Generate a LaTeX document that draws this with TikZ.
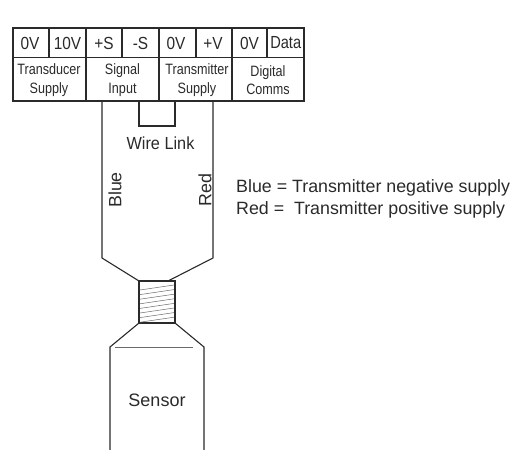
\documentclass[tikz,border=0pt]{standalone}
\usepackage{fontspec}
\setmainfont{Liberation Sans}
\definecolor{ink}{HTML}{2A2A2A}
\tikzset{
 x=1pt,y=-1pt,
 ln/.style={draw=ink,line width=1.1pt},
 thin ln/.style={draw=ink!70,line width=0.5pt},
 cell/.style={text=ink,font=\fontsize{17.5}{18}\selectfont,inner sep=0pt,anchor=center,xscale=.88},
 lbl/.style={text=ink,font=\fontsize{15}{18.5}\selectfont,inner sep=0pt,align=center,anchor=center,xscale=.84},
 big/.style={text=ink,font=\fontsize{17.8}{19}\selectfont,inner sep=0pt},
 mid/.style={text=ink,font=\fontsize{17.5}{19}\selectfont,inner sep=0pt,xscale=.93},
 sens/.style={text=ink,font=\fontsize{18}{19}\selectfont,inner sep=0pt}
}
\begin{document}
\begin{tikzpicture}
\useasboundingbox (0,0) rectangle (528,450);
\draw[ln] (13,28) rectangle (304,101);
\draw[ln] (13,57.5) -- (304,57.5);
\foreach \x in {49,122,196,267}{\draw[ln] (\x,28) -- (\x,57.5);}
\foreach \x in {86,159,232}{\draw[ln] (\x,28) -- (\x,101);}
\node[cell] (a) at (30,43) {0V};
\node[cell] (b) at (67.5,43) {10V};
\node[cell] (c) at (104,43) {+S};
\node[cell] (d) at (140.5,43) {-S};
\node[cell] (e) at (176,43) {0V};
\node[cell] (f) at (213,43) {+V};
\node[cell] (g) at (249.5,43) {0V};
\node[cell,xscale=.95] (h) at (285.7,43) {Data};
\node[lbl] (t1) at (49,80) {Transducer\\Supply};
\node[lbl] (t2) at (122.5,80) {Signal\\Input};
\node[lbl] (t3) at (197,80) {Transmitter\\Supply};
\node[lbl] (t4) at (268,80) {Digital\\Comms};
\draw[ln] (102,101) -- (102,258) -- (139,281);
\draw[ln] (213,101) -- (213,258) -- (168,281);
\draw[ln] (139,101) -- (139,126) -- (175,126) -- (175,101);
\node[mid] (wl) at (160.5,143) {Wire Link};
\node[big,rotate=90] (bl) at (115,190) {Blue};
\node[big,rotate=90] (rd) at (205,190) {Red};
\node[big,anchor=west] (n1) at (236,188) {Blue = Transmitter negative supply};
\node[big,anchor=west] (n2) at (236,210) {Red =\ \ Transmitter positive supply};
\draw[ln] (139,281) rectangle (175,323);
\foreach \y in {0,...,7}{\draw[thin ln] (140,{290+\y*4.6}) -- (174,{285+\y*4.6});}
\draw[ln] (139,323) -- (110,347) -- (110,450);
\draw[ln] (175,323) -- (204,347) -- (204,450);
\draw[thin ln] (115,347.5) -- (193,347.5);
\node[sens] (s) at (157,400) {Sensor};
\end{tikzpicture}
\end{document}
